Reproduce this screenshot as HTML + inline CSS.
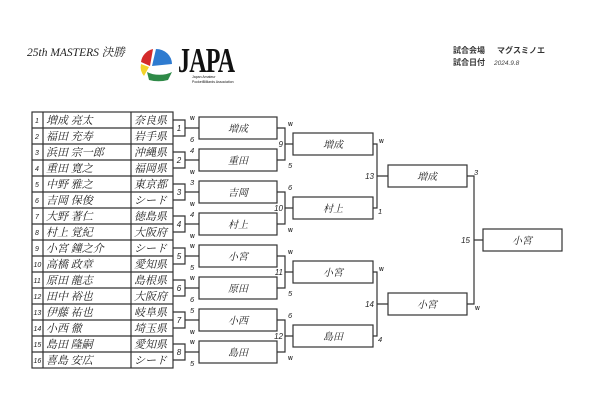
<!DOCTYPE html>
<html><head><meta charset="utf-8"><style>
html,body{margin:0;padding:0;background:#fff;}
svg{display:block;}
.nm{font-family:"Liberation Serif","Noto Serif CJK SC",serif;font-size:11px;font-style:italic;fill:#222;}
.sm{font-family:"Liberation Sans",sans-serif;font-size:7px;font-style:italic;fill:#222;}
.sc{font-family:"Liberation Sans",sans-serif;font-size:8px;font-style:italic;fill:#222;}
.bx{font-family:"Liberation Serif","Noto Serif CJK SC",serif;font-size:10px;font-style:italic;fill:#222;}
.w{font-family:"Liberation Sans",sans-serif;font-size:5px;font-weight:bold;fill:#333;}
</style></head><body>
<svg width="607" height="400" viewBox="0 0 607 400" xmlns="http://www.w3.org/2000/svg">
<text x="27" y="56" style="font-family:'Liberation Serif','Noto Serif CJK SC',serif;font-size:11.5px;font-style:italic;fill:#222">25th MASTERS 決勝</text>
<g>
<path d="M156 49 A16 15 0 0 1 172 64 L152 66 Z" fill="#2e7bd0"/>
<path d="M153 49 A16 15 0 0 0 141 62 L150 66 Z" fill="#d42a2a"/>
<path d="M141 64 L149 67 L144 76 A14 14 0 0 1 141 64Z" fill="#f2d22a"/>
<path d="M147 72 A18 10 0 0 0 172 72 L168 80 A18 8 0 0 1 149 80Z" fill="#2f8a48"/>
<text x="0" y="0" transform="translate(178,72) scale(0.8,1.15)" style="font-family:'Liberation Serif',serif;font-size:30px;font-weight:bold;fill:#111;letter-spacing:-1px">JAPA</text>
<text x="192" y="78" style="font-family:'Liberation Sans',sans-serif;font-size:3.5px;fill:#111">Japan Amateur</text>
<text x="192" y="83" style="font-family:'Liberation Sans',sans-serif;font-size:3.5px;fill:#111">PocketBilliards Association</text>
</g>
<text x="453" y="53" style="font-family:'Liberation Sans','Noto Sans CJK JP',sans-serif;font-size:8px;font-weight:bold;fill:#333">試合会場</text>
<text x="497" y="53" style="font-family:'Liberation Sans','Noto Sans CJK JP',sans-serif;font-size:8px;font-weight:bold;fill:#333">マグスミノエ</text>
<text x="453" y="65" style="font-family:'Liberation Sans','Noto Sans CJK JP',sans-serif;font-size:8px;font-weight:bold;fill:#333">試合日付</text>
<text x="494" y="65" style="font-family:'Liberation Sans',sans-serif;font-size:6.5px;font-style:italic;fill:#444">2024.9.8</text>

<g stroke="#333" stroke-width="1.2" fill="none">
<rect x="32" y="112" width="141" height="256"/>
<line x1="43" y1="112" x2="43" y2="368"/>
<line x1="131" y1="112" x2="131" y2="368"/>
<path d="M32 128H173M32 144H173M32 160H173M32 176H173M32 192H173M32 208H173M32 224H173M32 240H173M32 256H173M32 272H173M32 288H173M32 304H173M32 320H173M32 336H173M32 352H173"/>
<path d="M173 120H185V136H173M185 128H199M173 152H185V168H173M185 160H199M173 184H185V200H173M185 192H199M173 216H185V232H173M185 224H199M173 248H185V264H173M185 256H199M173 280H185V296H173M185 288H199M173 312H185V328H173M185 320H199M173 344H185V360H173M185 352H199"/>
<rect x="199" y="117" width="78" height="22"/><rect x="199" y="149" width="78" height="22"/>
<rect x="199" y="181" width="78" height="22"/><rect x="199" y="213" width="78" height="22"/>
<rect x="199" y="245" width="78" height="22"/><rect x="199" y="277" width="78" height="22"/>
<rect x="199" y="309" width="78" height="22"/><rect x="199" y="341" width="78" height="22"/>
<path d="M277 128H285V160H277M285 144H293M277 192H285V224H277M285 208H293M277 256H285V288H277M285 272H293M277 320H285V352H277M285 336H293"/>
<rect x="293" y="133" width="80" height="22"/><rect x="293" y="197" width="80" height="22"/>
<rect x="293" y="261" width="80" height="22"/><rect x="293" y="325" width="80" height="22"/>
<path d="M373 144H377V208H373M377 176H388M373 272H377V336H373M377 304H388"/>
<rect x="388" y="165" width="79" height="22"/><rect x="388" y="293" width="79" height="22"/>
<path d="M467 176H474V304H467M474 240H483"/>
<rect x="483" y="229" width="79" height="22"/>
</g>

<g class="sm">
<text x="35" y="123">1</text><text x="35" y="139">2</text><text x="35" y="155">3</text><text x="35" y="171">4</text>
<text x="35" y="187">5</text><text x="35" y="203">6</text><text x="35" y="219">7</text><text x="35" y="235">8</text>
<text x="35" y="251">9</text><text x="33.5" y="267">10</text><text x="33.5" y="283">11</text><text x="33.5" y="299">12</text>
<text x="33.5" y="315">13</text><text x="33.5" y="331">14</text><text x="33.5" y="347">15</text><text x="33.5" y="363">16</text>
</g>
<g class="nm">
<text x="46" y="124">増成 亮太</text><text x="134" y="124">奈良県</text>
<text x="46" y="140">福田 充寿</text><text x="134" y="140">岩手県</text>
<text x="46" y="156">浜田 宗一郎</text><text x="134" y="156">沖縄県</text>
<text x="46" y="172">重田 寛之</text><text x="134" y="172">福岡県</text>
<text x="46" y="188">中野 雅之</text><text x="134" y="188">東京都</text>
<text x="46" y="204">吉岡 保俊</text><text x="134" y="204">シード</text>
<text x="46" y="220">大野 著仁</text><text x="134" y="220">徳島県</text>
<text x="46" y="236">村上 覚紀</text><text x="134" y="236">大阪府</text>
<text x="46" y="252">小宮 鐘之介</text><text x="134" y="252">シード</text>
<text x="46" y="268">高橋 政章</text><text x="134" y="268">愛知県</text>
<text x="46" y="284">原田 龍志</text><text x="134" y="284">島根県</text>
<text x="46" y="300">田中 裕也</text><text x="134" y="300">大阪府</text>
<text x="46" y="316">伊藤 祐也</text><text x="134" y="316">岐阜県</text>
<text x="46" y="332">小西 徹</text><text x="134" y="332">埼玉県</text>
<text x="46" y="348">島田 隆嗣</text><text x="134" y="348">愛知県</text>
<text x="46" y="364">喜島 安広</text><text x="134" y="364">シード</text>
</g>
<g class="sc" text-anchor="middle">
<text x="179" y="131">1</text><text x="179" y="163">2</text><text x="179" y="195">3</text><text x="179" y="227">4</text>
<text x="179" y="259">5</text><text x="179" y="291">6</text><text x="179" y="323">7</text><text x="179" y="355">8</text>
</g>
<g class="sm" style="font-size:7.5px">
<text x="190" y="142">6</text><text x="190" y="153">4</text><text x="190" y="185">3</text><text x="190" y="217">4</text>
<text x="190" y="270">5</text><text x="190" y="302">6</text><text x="190" y="313">5</text><text x="190" y="366">5</text>
<text x="288" y="168">5</text><text x="288" y="190">6</text><text x="288" y="296">5</text><text x="288" y="318">6</text>
<text x="378" y="214">1</text><text x="378" y="342">4</text><text x="474" y="175">3</text>
</g>
<g class="w">
<text x="190" y="120">W</text><text x="190" y="174">W</text><text x="190" y="206">W</text><text x="190" y="238">W</text>
<text x="190" y="248">W</text><text x="190" y="280">W</text><text x="190" y="334">W</text><text x="190" y="344">W</text>
<text x="288" y="126">W</text><text x="288" y="232">W</text><text x="288" y="254">W</text><text x="288" y="360">W</text>
<text x="379" y="143">W</text><text x="379" y="271">W</text><text x="475" y="310">W</text>
</g>
<g class="sc" text-anchor="end">
<text x="283" y="147">9</text><text x="283" y="211">10</text><text x="283" y="275">11</text><text x="283" y="339">12</text>
<text x="374" y="179">13</text><text x="374" y="307">14</text><text x="470" y="243">15</text>
</g>
<g class="bx" text-anchor="middle">
<text x="238" y="132">増成</text><text x="238" y="164">重田</text><text x="238" y="196">吉岡</text><text x="238" y="228">村上</text>
<text x="238" y="260">小宮</text><text x="238" y="292">原田</text><text x="238" y="324">小西</text><text x="238" y="356">島田</text>
<text x="333" y="148">増成</text><text x="333" y="212">村上</text><text x="333" y="276">小宮</text><text x="333" y="340">島田</text>
<text x="427" y="180">増成</text><text x="427" y="308">小宮</text>
<text x="522" y="244">小宮</text>
</g>
</svg>
</body></html>
